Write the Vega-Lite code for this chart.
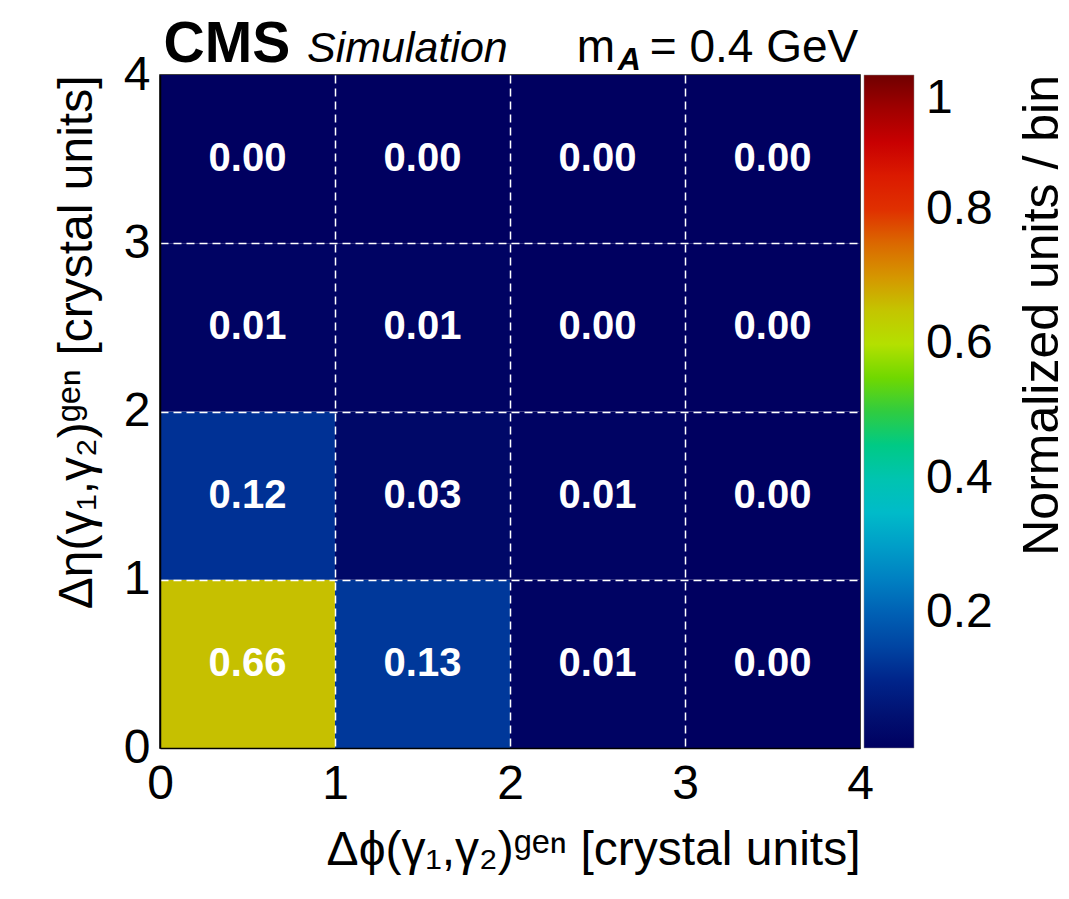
{
  "$schema": "https://vega.github.io/schema/vega-lite/v6.json",
  "width": 700,
  "height": 673,
  "autosize": "none",
  "padding": {"left": 160, "top": 75, "right": 209, "bottom": 151},
  "background": "white",
  "config": {
    "font": "Liberation Sans",
    "view": {"stroke": "black", "strokeWidth": 1.5},
    "axis": {
      "labelFont": "Liberation Sans",
      "titleFont": "Liberation Sans, DejaVu Sans",
      "labelColor": "black",
      "titleColor": "black",
      "labelFontSize": 48,
      "titleFontSize": 48,
      "titleFontWeight": "normal",
      "ticks": false,
      "labelFlush": false,
      "domainColor": "black",
      "domainWidth": 1.5,
      "titleLimit": 900
    },
    "legend": {
      "labelFont": "Liberation Sans",
      "labelFontSize": 48,
      "labelColor": "black"
    }
  },
  "data": {
    "values": [
      {"xlo": 0, "xhi": 1, "xc": 0.5, "ylo": 0, "yhi": 1, "yc": 0.5, "v": 0.66},
      {"xlo": 1, "xhi": 2, "xc": 1.5, "ylo": 0, "yhi": 1, "yc": 0.5, "v": 0.13},
      {"xlo": 2, "xhi": 3, "xc": 2.5, "ylo": 0, "yhi": 1, "yc": 0.5, "v": 0.01},
      {"xlo": 3, "xhi": 4, "xc": 3.5, "ylo": 0, "yhi": 1, "yc": 0.5, "v": 0.0},
      {"xlo": 0, "xhi": 1, "xc": 0.5, "ylo": 1, "yhi": 2, "yc": 1.5, "v": 0.12},
      {"xlo": 1, "xhi": 2, "xc": 1.5, "ylo": 1, "yhi": 2, "yc": 1.5, "v": 0.03},
      {"xlo": 2, "xhi": 3, "xc": 2.5, "ylo": 1, "yhi": 2, "yc": 1.5, "v": 0.01},
      {"xlo": 3, "xhi": 4, "xc": 3.5, "ylo": 1, "yhi": 2, "yc": 1.5, "v": 0.0},
      {"xlo": 0, "xhi": 1, "xc": 0.5, "ylo": 2, "yhi": 3, "yc": 2.5, "v": 0.01},
      {"xlo": 1, "xhi": 2, "xc": 1.5, "ylo": 2, "yhi": 3, "yc": 2.5, "v": 0.01},
      {"xlo": 2, "xhi": 3, "xc": 2.5, "ylo": 2, "yhi": 3, "yc": 2.5, "v": 0.0},
      {"xlo": 3, "xhi": 4, "xc": 3.5, "ylo": 2, "yhi": 3, "yc": 2.5, "v": 0.0},
      {"xlo": 0, "xhi": 1, "xc": 0.5, "ylo": 3, "yhi": 4, "yc": 3.5, "v": 0.0},
      {"xlo": 1, "xhi": 2, "xc": 1.5, "ylo": 3, "yhi": 4, "yc": 3.5, "v": 0.0},
      {"xlo": 2, "xhi": 3, "xc": 2.5, "ylo": 3, "yhi": 4, "yc": 3.5, "v": 0.0},
      {"xlo": 3, "xhi": 4, "xc": 3.5, "ylo": 3, "yhi": 4, "yc": 3.5, "v": 0.0}
    ]
  },
  "layer": [
    {
      "mark": {"type": "rect"},
      "encoding": {
        "x": {
          "field": "xlo", "type": "quantitative",
          "scale": {"domain": [0, 4], "nice": false, "zero": false},
          "axis": {
            "values": [0, 1, 2, 3, 4], "format": "d",
            "labelPadding": 12,
            "grid": true,
            "gridColor": "white",
            "gridDash": [8, 5],
            "gridWidth": 1.5,
            "gridOpacity": {"condition": {"test": "datum.value == 0 || datum.value == 4", "value": 0}, "value": 1},
            "zindex": 1,
            "title": "Δϕ(γ₁,γ₂)ᵍᵉⁿ [crystal units]",
            "titleAnchor": "end",
            "titlePadding": 18
          }
        },
        "x2": {"field": "xhi"},
        "y": {
          "field": "ylo", "type": "quantitative",
          "scale": {"domain": [0, 4], "nice": false, "zero": false},
          "axis": {
            "values": [0, 1, 2, 3, 4], "format": "d",
            "labelPadding": 10,
            "grid": true,
            "gridColor": "white",
            "gridDash": [8, 5],
            "gridWidth": 1.5,
            "gridOpacity": {"condition": {"test": "datum.value == 0 || datum.value == 4", "value": 0}, "value": 1},
            "zindex": 1,
            "title": "Δη(γ₁,γ₂)ᵍᵉⁿ [crystal units]",
            "titleAnchor": "end",
            "titlePadding": 22
          }
        },
        "y2": {"field": "yhi"},
        "color": {
          "field": "v", "type": "quantitative",
          "scale": {
            "domain": [0, 0.03, 0.1, 0.13, 0.2, 0.3, 0.36, 0.4, 0.48, 0.5, 0.55, 0.6, 0.66, 0.72, 0.8, 0.88, 0.95, 1],
            "range": ["#000060", "#000868", "#00248a", "#00389a", "#0060b4", "#009ec8", "#00c0c8", "#00c4b0", "#00cc60", "#30cc40", "#70d800", "#b4e000", "#c6c000", "#d88000", "#e03000", "#d80000", "#a00000", "#700000"]
          },
          "legend": {
            "values": [0.2, 0.4, 0.6, 0.8, 1],
            "format": "~g",
            "title": null,
            "gradientLength": 673,
            "gradientThickness": 50,
            "gradientStrokeColor": "#888888",
            "gradientStrokeWidth": 0.5,
            "offset": 4,
            "labelOffset": 12
          }
        }
      }
    },
    {
      "mark": {"type": "text", "color": "white", "fontWeight": "bold", "fontSize": 40, "font": "Liberation Sans", "baseline": "middle", "align": "center"},
      "encoding": {
        "x": {"field": "xc", "type": "quantitative"},
        "y": {"field": "yc", "type": "quantitative"},
        "text": {"field": "v", "type": "quantitative", "format": ".2f"}
      }
    },
    {
      "data": {"values": [{}]},
      "mark": {"type": "text", "text": "Normalized units / bin", "angle": 270, "fontSize": 50, "font": "Liberation Sans", "align": "right", "baseline": "alphabetic", "color": "black"},
      "encoding": {"x": {"datum": 5.13}, "y": {"datum": 4}}
    },
    {
      "data": {"values": [{}]},
      "mark": {"type": "text", "text": "CMS", "fontWeight": "bold", "fontSize": 57, "font": "Liberation Sans", "align": "left", "baseline": "alphabetic", "color": "black"},
      "encoding": {"x": {"datum": 0.02}, "y": {"datum": 4.08}}
    },
    {
      "data": {"values": [{}]},
      "mark": {"type": "text", "text": "Simulation", "fontStyle": "italic", "fontSize": 43, "font": "Liberation Sans", "align": "left", "baseline": "alphabetic", "color": "black"},
      "encoding": {"x": {"datum": 0.84}, "y": {"datum": 4.08}}
    },
    {
      "data": {"values": [{}]},
      "mark": {"type": "text", "text": "m", "fontSize": 46, "font": "Liberation Sans", "align": "right", "baseline": "alphabetic", "color": "black"},
      "encoding": {"x": {"datum": 2.6}, "y": {"datum": 4.08}}
    },
    {
      "data": {"values": [{}]},
      "mark": {"type": "text", "text": "A", "fontSize": 32, "fontWeight": "bold", "fontStyle": "italic", "font": "Liberation Sans", "align": "left", "baseline": "alphabetic", "color": "black"},
      "encoding": {"x": {"datum": 2.615}, "y": {"datum": 4.03}}
    },
    {
      "data": {"values": [{}]},
      "mark": {"type": "text", "text": "= 0.4 GeV", "fontSize": 46, "font": "Liberation Sans", "align": "right", "baseline": "alphabetic", "color": "black"},
      "encoding": {"x": {"datum": 3.99}, "y": {"datum": 4.08}}
    }
  ]
}
